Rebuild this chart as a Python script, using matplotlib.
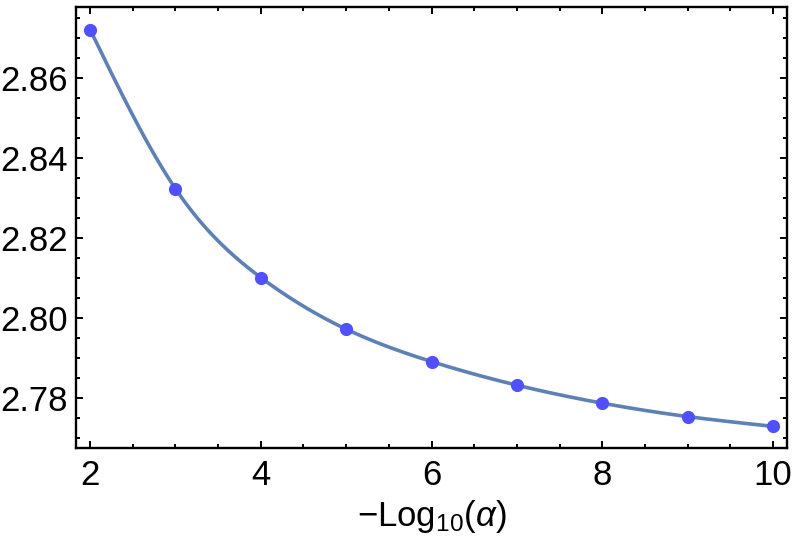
import numpy as np
import matplotlib
matplotlib.use("Agg")
import matplotlib.pyplot as plt
from matplotlib.ticker import MultipleLocator, FormatStrFormatter

# data
neg_log_alpha = [2, 3, 4, 5, 6, 7, 8, 9, 10]
values = [2.8720, 2.8322, 2.8100, 2.7971, 2.7890, 2.7831, 2.7786, 2.77525, 2.7728]

plt.rcParams['font.family'] = ['Liberation Sans', 'DejaVu Sans']
plt.rcParams['mathtext.fontset'] = 'custom'
plt.rcParams['mathtext.rm'] = 'Liberation Sans'
plt.rcParams['mathtext.it'] = 'Liberation Sans:italic'


def natural_spline(x, y, n=400):
    # natural cubic spline, only used to draw a smooth line through the points
    x = np.asarray(x, float)
    y = np.asarray(y, float)
    k = len(x)
    h = np.diff(x)
    A = np.zeros((k, k))
    r = np.zeros(k)
    A[0, 0] = A[-1, -1] = 1
    for i in range(1, k - 1):
        A[i, i - 1] = h[i - 1]
        A[i, i] = 2 * (h[i - 1] + h[i])
        A[i, i + 1] = h[i]
        r[i] = 3 * ((y[i + 1] - y[i]) / h[i] - (y[i] - y[i - 1]) / h[i - 1])
    c = np.linalg.solve(A, r)
    xs = np.linspace(x[0], x[-1], n)
    idx = np.clip(np.searchsorted(x, xs) - 1, 0, k - 2)
    dx = xs - x[idx]
    b = (y[1:] - y[:-1]) / h - h * (2 * c[:-1] + c[1:]) / 3
    d = (c[1:] - c[:-1]) / (3 * h)
    ys = y[idx] + b[idx] * dx + c[idx] * dx ** 2 + d[idx] * dx ** 3
    return xs, ys


fig = plt.figure(figsize=(7.97, 5.51), dpi=100)
ax = fig.add_axes([0.0954, 0.187, 0.8926, 0.800])

xs, ys = natural_spline(neg_log_alpha, values)
ax.plot(xs, ys, color='#5E81B5', lw=2.6, zorder=2)
ax.plot(neg_log_alpha, values, 'o', color='#5050FF', ms=9.5, mec='none', zorder=3)

ax.set_xlim(1.835, 10.17)
ax.set_ylim(2.7674, 2.8776)

ax.xaxis.set_major_locator(MultipleLocator(2))
ax.xaxis.set_minor_locator(MultipleLocator(0.5))
ax.yaxis.set_major_locator(MultipleLocator(0.02))
ax.yaxis.set_minor_locator(MultipleLocator(0.005))
ax.yaxis.set_major_formatter(FormatStrFormatter('%.2f'))

ax.tick_params(which='both', direction='in', top=True, right=True,
               labelsize=25, width=1.4)
ax.tick_params(which='major', length=5)
ax.tick_params(which='minor', length=3)
ax.tick_params(axis='x', pad=8)
ax.tick_params(axis='y', pad=6)
for s in ax.spines.values():
    s.set_linewidth(1.7)

ax.set_xlabel(r'−Log$_{10}$($\mathit{\alpha}$)', fontsize=25, labelpad=4)

fig.savefig('out.png', dpi=100)
